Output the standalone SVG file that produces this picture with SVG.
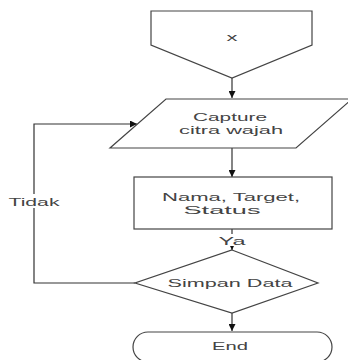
<svg xmlns="http://www.w3.org/2000/svg" width="348" height="360" viewBox="0 0 348 360">
<style>
.shape{fill:#fff;stroke:#444;stroke-width:1.2}
.edge{fill:none;stroke:#333;stroke-width:1.2}
text{font-family:"Liberation Sans",Arial,sans-serif;font-size:11.5px;fill:#444;text-anchor:middle}
</style>
<defs>
<marker id="arr" viewBox="0 0 10 10" refX="10" refY="5" markerWidth="7" markerHeight="7" markerUnits="userSpaceOnUse" orient="auto">
<path d="M0,0 L10,5 L0,10 z" fill="#111"/>
</marker>
</defs>
<rect width="348" height="360" fill="#fff"/>
<g id="connectors">
<path class="edge" d="M232,78 V98" marker-end="url(#arr)"/>
<path class="edge" d="M232,148 V177" marker-end="url(#arr)"/>
<path class="edge" d="M232,229 V250" marker-end="url(#arr)"/>
<path class="edge" d="M232,313 V331" marker-end="url(#arr)"/>
<path class="edge" d="M135,283 H34 V124 H137" marker-end="url(#arr)"/>
<rect x="9" y="194" width="52" height="14" fill="#fff"/>
<text x="34" y="206" textLength="51" lengthAdjust="spacingAndGlyphs">Tidak</text>
<rect x="219" y="234" width="27" height="12" fill="#fff"/>
<text x="232" y="245" textLength="27" lengthAdjust="spacingAndGlyphs">Ya</text>
</g>
<g id="start">
<path class="shape" d="M151,11 H312 V45 L232,78 L151,45 Z"/>
<text x="232" y="41" textLength="11" lengthAdjust="spacingAndGlyphs">x</text>
</g>
<g id="capture">
<path class="shape" d="M166,99 H352 L296,148 H110 Z"/>
<text x="230" y="121" textLength="74" lengthAdjust="spacingAndGlyphs">Capture</text>
<text x="231" y="134" textLength="104" lengthAdjust="spacingAndGlyphs">citra wajah</text>
</g>
<g id="proses">
<rect class="shape" x="134" y="177" width="198" height="52"/>
<text x="231" y="201" textLength="138" lengthAdjust="spacingAndGlyphs">Nama, Target,</text>
<text x="222" y="214" textLength="77" lengthAdjust="spacingAndGlyphs">Status</text>
</g>
<g id="simpan">
<path class="shape" d="M232,250 L318,283 L232,313 L135,283 Z"/>
<text x="230" y="287" textLength="125" lengthAdjust="spacingAndGlyphs">Simpan Data</text>
</g>
<g id="end">
<rect class="shape" x="133" y="332" width="199" height="30" rx="15" ry="15"/>
<text x="230" y="350" textLength="36" lengthAdjust="spacingAndGlyphs">End</text>
</g>
</svg>
